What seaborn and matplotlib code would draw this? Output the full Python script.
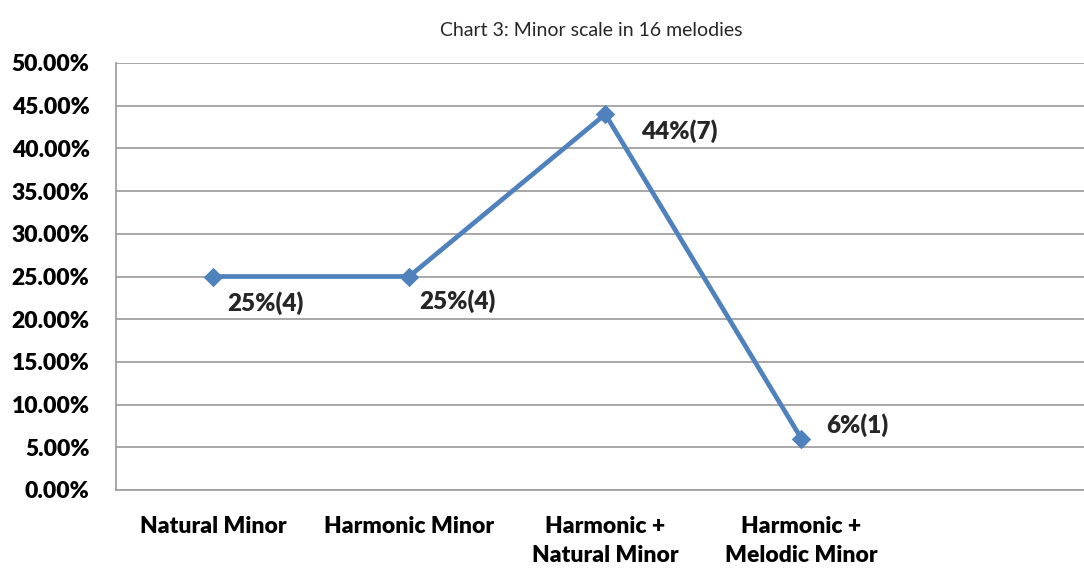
import numpy as np
import pandas as pd
import matplotlib
matplotlib.use('Agg')
import matplotlib.pyplot as plt
import seaborn as sns
from matplotlib.ticker import FuncFormatter

categories = ['Natural Minor', 'Harmonic Minor', 'Harmonic +\nNatural Minor', 'Harmonic +\nMelodic Minor']
percent = [25, 25, 44, 6]
counts = [4, 4, 7, 1]
point_labels = ['25%(4)', '25%(4)', '44%(7)', '6%(1)']
# label offsets (points) from each marker
label_offsets = [(10, -19), (7, -18), (26, -12), (18, 10)]

df = pd.DataFrame({'pos': range(len(categories)), 'pct': percent})

sns.set_style('white')
plt.rcParams['font.family'] = ['Lato', 'DejaVu Sans']

fig = plt.figure(figsize=(10.84, 5.68), dpi=100)
ax = fig.add_axes([116/1084, 1 - 490/568, 1 - 116/1084, (490 - 63)/568])

sns.lineplot(data=df, x='pos', y='pct', ax=ax, color='#4F81BD', linewidth=3.4,
             marker='D', markersize=9, markeredgecolor='#4F81BD')

ax.set_xlim(-0.494, 4.44)
ax.set_ylim(0, 50)
ax.set_yticks(np.arange(0, 51, 5))
ax.yaxis.set_major_formatter(FuncFormatter(lambda v, p: f'{v:.2f}%'))
ax.set_xticks(range(len(categories)))
ax.set_xticklabels(categories, linespacing=1.45)
ax.tick_params(axis='both', length=0, labelsize=16.5, colors='black')
ax.tick_params(axis='y', pad=19)
ax.tick_params(axis='x', pad=19)
for lbl in ax.get_xticklabels() + ax.get_yticklabels():
    lbl.set_fontweight('heavy')

ax.grid(axis='y', color='#A0A0A0', linewidth=1.3)
ax.set_axisbelow(True)
for s in ['top', 'right']:
    ax.spines[s].set_visible(False)
for s in ['left', 'bottom']:
    ax.spines[s].set_color('#A0A0A0')
    ax.spines[s].set_linewidth(1.3)
ax.set_xlabel('')
ax.set_ylabel('')

for i, (txt, off) in enumerate(zip(point_labels, label_offsets)):
    ax.annotate(txt, (i, percent[i]), xytext=off, textcoords='offset points',
                ha='left', va='center', fontsize=17.5, fontweight='heavy')

fig.text(591/1084, 1 - 30/568, 'Chart 3: Minor scale in 16 melodies',
         ha='center', va='center', fontsize=14)

fig.savefig('out.png', dpi=100)
